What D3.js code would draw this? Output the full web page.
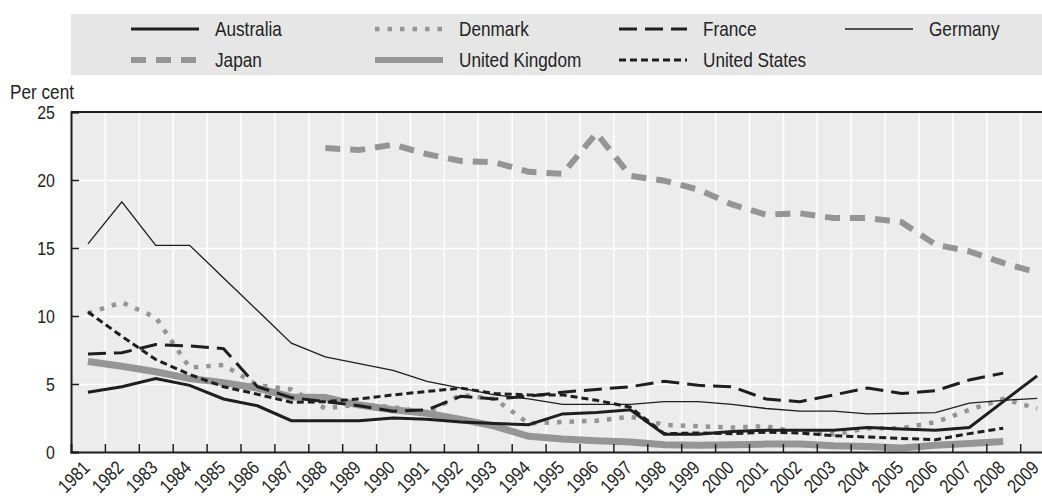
<!DOCTYPE html>
<html>
<head>
<meta charset="utf-8">
<script src="https://cdn.jsdelivr.net/npm/d3@7"></script>
<style>
  body { margin: 0; background: #fff; }
  svg text { font-family: "Liberation Sans", Arial, sans-serif; fill: #222; font-size: 20px; }
</style>
</head>
<body>
<svg id="chart" width="1042" height="499"></svg>
<script>
//
// Data
//
var years = [1981,1982,1983,1984,1985,1986,1987,1988,1989,1990,1991,1992,1993,1994,1995,
             1996,1997,1998,1999,2000,2001,2002,2003,2004,2005,2006,2007,2008,2009];
var yTicks = [0, 5, 10, 15, 20, 25];

var australia = [4.4,4.8,5.4,4.9,3.9,3.4,2.3,2.3,2.3,2.5,2.4,2.2,2.1,2.0,2.8,2.9,3.1,1.3,1.3,1.5,1.6,1.6,1.6,1.8,1.7,1.6,1.8,3.7,5.6];
var denmark   = [10.2,11.0,9.9,6.2,6.4,4.9,4.6,3.2,3.5,3.3,2.9,4.2,3.9,2.1,2.2,2.3,2.6,2.0,1.9,1.8,1.9,1.4,1.3,1.75,1.75,2.2,3.1,3.9,3.2];
var france    = [7.2,7.3,7.9,7.8,7.6,4.8,4.0,3.7,3.4,3.0,3.1,4.1,3.9,4.1,4.4,4.6,4.8,5.2,4.9,4.8,3.9,3.7,4.2,4.7,4.3,4.5,5.3,5.8,null];
var germany   = [15.3,18.4,15.2,15.2,12.8,10.4,8.0,7.0,6.5,6.0,5.2,4.7,4.2,3.9,3.5,3.5,3.5,3.7,3.7,3.5,3.2,3.0,3.0,2.8,2.85,2.9,3.6,3.8,3.95];
var japan     = [null,null,null,null,null,null,null,22.35,22.2,22.6,21.9,21.4,21.3,20.6,20.45,23.45,20.3,19.95,19.3,18.2,17.45,17.55,17.2,17.2,16.9,15.25,14.75,13.9,13.2];
var uk        = [6.65,6.3,5.9,5.4,5.1,4.7,4.05,4.0,3.45,3.1,2.85,2.4,1.9,1.15,0.95,0.83,0.73,0.54,0.5,0.54,0.58,0.58,0.46,0.41,0.29,0.5,0.62,0.78,null];
var us        = [10.3,8.5,6.8,5.7,4.8,4.25,3.65,3.7,3.9,4.2,4.45,4.7,4.3,4.2,4.2,3.8,3.3,1.35,1.4,1.35,1.45,1.4,1.2,1.1,1.0,0.9,1.35,1.75,null];

var black = "#1e1e1e", grey = "#959595";

// draw order: grey lines under black ones
var series = [
  {name: "United Kingdom", values: uk,        color: grey,  width: 7,   dash: null},
  {name: "Japan",          values: japan,     color: grey,  width: 6,   dash: "15,10"},
  {name: "Denmark",        values: denmark,   color: grey,  width: 4.5, dash: "4.5,8"},
  {name: "Germany",        values: germany,   color: black, width: 1.3, dash: null},
  {name: "France",         values: france,    color: black, width: 3,   dash: "18,8"},
  {name: "United States",  values: us,        color: black, width: 3,   dash: "7,4"},
  {name: "Australia",      values: australia, color: black, width: 3,   dash: null}
];

// legend layout: [name, column, row]
var legendItems = [
  ["Australia", 0, 0], ["Denmark", 1, 0], ["France", 2, 0], ["Germany", 3, 0],
  ["Japan", 0, 1], ["United Kingdom", 1, 1], ["United States", 2, 1]
];

//
// Layout
//
var svg = d3.select("#chart");
var mLeft = 71, mTop = 112, mBottom = 452;
var band = 33.9;
var mRight = mLeft + band * years.length;
var squeeze = 0.86;   // reference font is a condensed face
var squeezeNum = 0.84;

var x = d3.scaleBand().domain(years).range([mLeft, mRight]).padding(0);
var xb = d3.scaleLinear().domain([years[0], years[years.length - 1] + 1]).range([mLeft, mRight]);
var y = d3.scaleLinear().domain([0, 25]).range([mBottom, mTop]);

function cx(yr) { return x(yr) + x.bandwidth() / 2; }

// plot background
svg.append("rect")
  .attr("x", mLeft).attr("y", mTop)
  .attr("width", mRight - mLeft).attr("height", mBottom - mTop)
  .attr("fill", "#ececec");

// gridlines
var bounds = years.slice(1);
svg.append("g")
  .attr("transform", "translate(0," + mBottom + ")")
  .call(d3.axisBottom(xb).tickValues(bounds).tickSize(-(mBottom - mTop)).tickFormat(""))
  .call(function(g) {
    g.select(".domain").remove();
    g.selectAll("line").attr("stroke", "#fff").attr("stroke-width", 1.5);
  });
svg.append("g")
  .attr("transform", "translate(" + mLeft + ",0)")
  .call(d3.axisLeft(y).tickValues([5, 10, 15, 20]).tickSize(-(mRight - mLeft)).tickFormat(""))
  .call(function(g) {
    g.select(".domain").remove();
    g.selectAll("line").attr("stroke", "#fff").attr("stroke-width", 1.5);
  });

// lines
var line = d3.line()
  .defined(function(d) { return d.v != null; })
  .x(function(d) { return cx(d.yr); })
  .y(function(d) { return y(d.v); });

series.forEach(function(s) {
  var pts = years.map(function(yr, i) { return {yr: yr, v: s.values[i]}; });
  svg.append("path")
    .datum(pts)
    .attr("fill", "none")
    .attr("stroke", s.color)
    .attr("stroke-width", s.width)
    .attr("stroke-dasharray", s.dash)
    .attr("stroke-linejoin", "miter")
    .attr("d", line);
});

// frame
svg.append("line")
  .attr("x1", mLeft).attr("x2", mRight).attr("y1", mTop).attr("y2", mTop)
  .attr("stroke", black).attr("stroke-width", 2);

// y axis
svg.append("g")
  .attr("transform", "translate(" + mLeft + ",0)")
  .call(d3.axisLeft(y).tickValues(yTicks).tickSize(-8).tickPadding(16))
  .call(function(g) {
    g.select(".domain").attr("stroke", black).attr("stroke-width", 2);
    g.selectAll("line").attr("stroke", black).attr("stroke-width", 1.5);
    g.selectAll("text")
      .attr("x", null)
      .attr("transform", "translate(-16,0) scale(" + squeezeNum + ",1)")
      .attr("fill", "#222").attr("font-size", null).attr("font-family", null)
      .style("font-size", "19px");
  });

// x axis: tick marks at band edges
svg.append("g")
  .attr("transform", "translate(0," + mBottom + ")")
  .call(d3.axisBottom(xb).tickValues(bounds).tickSize(-8).tickFormat(""))
  .call(function(g) {
    g.select(".domain").attr("stroke", black).attr("stroke-width", 2);
    g.selectAll("line").attr("stroke", black).attr("stroke-width", 1.5);
  });

// x labels, rotated
svg.append("g").selectAll("text")
  .data(years)
  .join("text")
  .attr("transform", function(d) {
    return "translate(" + (cx(d) + 3) + ",469) rotate(-45) scale(" + squeezeNum + ",1)";
  })
  .attr("text-anchor", "end")
  .style("font-size", "19px")
  .text(function(d) { return d; });

// unit label
svg.append("text")
  .attr("transform", "translate(10,99) scale(" + squeeze + ",1)")
  .text("Per cent");

//
// Legend
//
svg.append("rect")
  .attr("x", mLeft).attr("y", 14)
  .attr("width", 1042 - mLeft).attr("height", 61)
  .attr("fill", "#e6e6e6");

var colX = [131, 375, 619, 845], rowY = [29, 60];
var lg = svg.append("g");
legendItems.forEach(function(item) {
  var s = series.filter(function(d) { return d.name == item[0]; })[0];
  var lx = colX[item[1]], ly = rowY[item[2]];
  lg.append("line")
    .attr("x1", lx).attr("x2", lx + 68).attr("y1", ly).attr("y2", ly)
    .attr("stroke", s.color)
    .attr("stroke-width", s.name == "Germany" ? 1.3 : Math.min(s.width, 6))
    .attr("stroke-dasharray", s.dash);
  lg.append("text")
    .attr("transform", "translate(" + (lx + 84) + "," + ly + ") scale(" + squeeze + ",1)")
    .attr("dy", "0.35em")
    .text(s.name);
});
</script>
</body>
</html>
